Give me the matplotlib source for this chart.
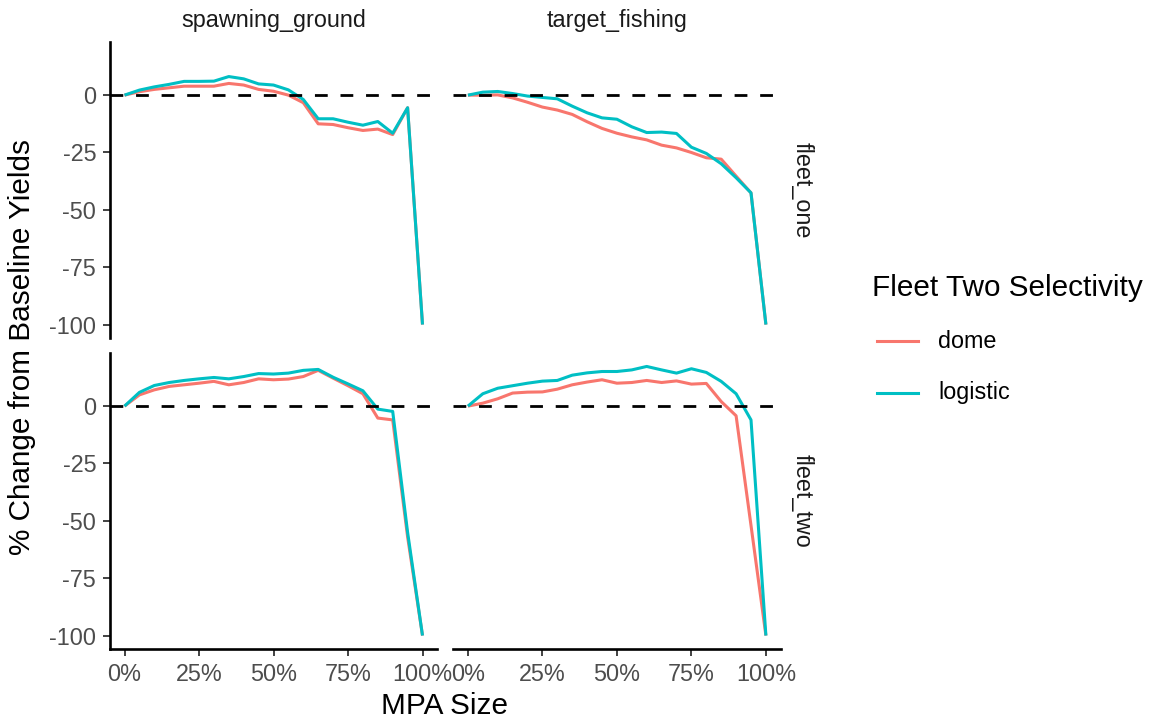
import numpy as np
import matplotlib
matplotlib.use("Agg")
import matplotlib.pyplot as plt
from matplotlib.lines import Line2D
from matplotlib.ticker import FuncFormatter

plt.rcParams['font.family'] = ['Liberation Sans', 'DejaVu Sans']
plt.rcParams['axes.unicode_minus'] = False

# ---- data ----
mpa_size = list(range(0, 101, 5))
strategies = ["spawning_ground", "target_fishing"]
fleets = ["fleet_one", "fleet_two"]
selectivities = ["dome", "logistic"]
colors = ["#F8766D", "#00BFC4"]

fleet_one_spawning_dome = [0, 1.5, 2.5, 3.2, 3.9, 3.9, 3.9, 5.1, 4.4, 2.5, 1.7, 0.0, -3.3, -12.5, -12.8, -14.2, -15.4, -14.8, -17.2, -5.5, -100]
fleet_one_spawning_logistic = [0, 2.2, 3.6, 4.7, 6.0, 6.0, 6.1, 8.1, 7.1, 4.9, 4.4, 2.3, -1.9, -10.3, -10.3, -11.8, -13.1, -11.5, -16.6, -5.5, -100]
fleet_one_target_dome = [0, 0, 0.1, -1.2, -3.1, -5.2, -6.5, -8.4, -11.6, -14.5, -16.6, -18.2, -19.5, -21.8, -23.0, -25.0, -27.3, -27.9, -35.3, -42.6, -100]
fleet_one_target_logistic = [0, 1.3, 1.6, 0.7, -0.4, -1.0, -1.6, -4.8, -7.7, -9.9, -10.5, -13.8, -16.3, -16.1, -16.7, -22.7, -25.4, -29.9, -36.0, -42.6, -100]
fleet_two_spawning_dome = [0, 4.9, 7.1, 8.6, 9.3, 10.0, 10.8, 9.3, 10.3, 11.9, 11.5, 11.8, 12.9, 15.6, 12.2, 8.9, 5.4, -5.2, -6.0, -57, -100]
fleet_two_spawning_logistic = [0, 6.0, 9.0, 10.3, 11.2, 11.9, 12.5, 11.9, 12.9, 14.2, 14.0, 14.4, 15.6, 16.0, 12.6, 9.7, 6.7, -1.3, -2.3, -55, -100]
fleet_two_target_dome = [0, 1.3, 3.2, 5.7, 6.1, 6.2, 7.4, 9.3, 10.5, 11.5, 10.0, 10.3, 11.2, 10.3, 11.0, 9.6, 9.9, 2.0, -4.2, -52, -100]
fleet_two_target_logistic = [0, 5.4, 7.8, 8.9, 10.0, 10.9, 11.2, 13.5, 14.5, 15.1, 15.1, 15.8, 17.3, 15.8, 14.4, 16.3, 14.7, 10.8, 5.4, -6.0, -100]

y_ticks = [0, -25, -50, -75, -100]
x_ticks = [0, 25, 50, 75, 100]

panels = {
    ("fleet_one", "spawning_ground"): [fleet_one_spawning_dome, fleet_one_spawning_logistic],
    ("fleet_one", "target_fishing"): [fleet_one_target_dome, fleet_one_target_logistic],
    ("fleet_two", "spawning_ground"): [fleet_two_spawning_dome, fleet_two_spawning_logistic],
    ("fleet_two", "target_fishing"): [fleet_two_target_dome, fleet_two_target_logistic],
}

W, H = 1152, 723
fig = plt.figure(figsize=(W / 100, H / 100), dpi=100)

col_x = [109.6, 453.0]
col_w = 327.8
row_top = [42.0, 353.0]
row_h = 296.0

all_vals = [v for s in panels.values() for ser in s for v in ser]
ymin, ymax = min(all_vals), max(all_vals)
yr = ymax - ymin
ylim = (ymin - 0.05 * yr, ymax + 0.05 * yr)
xlim = (-5, 105)

tick_col = "#4D4D4D"
lw_axis = 1.9
small = 16.8
large = 21.4

for r, fleet in enumerate(fleets):
    for c, strat in enumerate(strategies):
        ax = fig.add_axes([col_x[c] / W, 1 - (row_top[r] + row_h) / H, col_w / W, row_h / H])
        for sel, ser, colr in zip(selectivities, panels[(fleet, strat)], colors):
            ax.plot(mpa_size, ser, color=colr, lw=2.2, label=sel, zorder=2,
                    solid_joinstyle='round', solid_capstyle='butt')
        ax.axhline(0, color='black', lw=2.0, linestyle=(0, (4.6, 4.6)), zorder=3)
        ax.set_xlim(*xlim)
        ax.set_ylim(*ylim)
        for s in ax.spines.values():
            s.set_visible(False)
        ax.set_xticks(x_ticks)
        ax.set_yticks(y_ticks)
        ax.xaxis.set_major_formatter(FuncFormatter(lambda v, p: f"{int(v)}%"))
        ax.yaxis.set_major_formatter(FuncFormatter(lambda v, p: f"{int(v)}"))
        ax.tick_params(axis='both', colors='#333333', labelcolor=tick_col,
                       labelsize=small, length=5.2, width=1.3)
        ax.tick_params(axis='x', pad=5)
        ax.tick_params(axis='y', pad=4.5)
        if c == 0:
            ax.spines['left'].set_visible(True)
            ax.spines['left'].set_linewidth(lw_axis)
        else:
            ax.tick_params(axis='y', left=False, labelleft=False)
        if r == 1:
            ax.spines['bottom'].set_visible(True)
            ax.spines['bottom'].set_linewidth(lw_axis)
        else:
            ax.tick_params(axis='x', bottom=False, labelbottom=False)
        ax.set_facecolor('white')
        if r == 0:
            ax.text(0.5, 1 + (42 - 20) / row_h, strat, transform=ax.transAxes,
                    ha='center', va='center', fontsize=small, color='#1A1A1A')
        if c == 1:
            ax.text(1 + (801.5 - 780) / col_w, 0.5, fleet, transform=ax.transAxes,
                    ha='center', va='center', fontsize=small, color='#1A1A1A', rotation=-90)

fig.text(22 / W, 1 - 347 / H, "% Change from Baseline Yields", rotation=90,
         ha='center', va='center', fontsize=large, color='black')
fig.text(444.8 / W, 1 - 706 / H, "MPA Size", ha='center', va='center',
         fontsize=large, color='black')

# legend
fig.text(872 / W, 1 - 288 / H, "Fleet Two Selectivity", ha='left', va='center',
         fontsize=large, color='black')
for i, (sel, colr) in enumerate(zip(selectivities, colors)):
    yy = 1 - (341 + 52 * i) / H
    fig.add_artist(Line2D([877 / W, 918 / W], [yy, yy], transform=fig.transFigure,
                          color=colr, lw=2.2))
    fig.text(938 / W, yy, sel, ha='left', va='center', fontsize=small, color='black')

fig.savefig("out.png", dpi=100, facecolor='white')
